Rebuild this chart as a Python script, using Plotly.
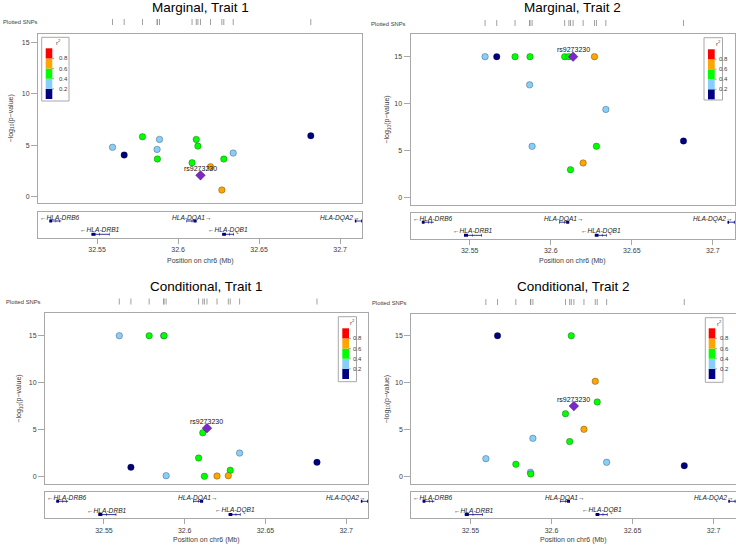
import plotly.graph_objects as go

W, H = 736, 545
FONT = "Liberation Sans, Arial, Helvetica, sans-serif"
BORDER = "#a8a8a8"
TXT = "#404040"

# ---------------- data ----------------
snp_pos = [32.5595, 32.5667, 32.5780, 32.5870, 32.5872, 32.5885, 32.6086, 32.6112,
           32.6122, 32.6138, 32.6200, 32.6270, 32.6282, 32.6340, 32.6819]
# LD bin with index SNP: 0:<0.2 1:0.2-0.4 2:0.4-0.6 3:0.6-0.8 4:>0.8, -1 = index SNP
snp_ld_bin = [1, 0, 2, 1, 2, 1, 2, 2, 2, -1, 3, 3, 2, 1, 0]
index_snp = "rs9273230"

marg_t1 = [4.80, 4.05, 5.83, 4.60, 3.66, 5.57, 3.30, 5.57, 4.92, 2.08, 2.91, 0.65, 3.66, 4.24, 5.92]
marg_t2 = [15.0, 15.0, 15.0, 12.0, 15.0, 5.46, 15.0, 15.0, 2.98, 15.0, 3.69, 15.0, 5.47, 9.39, 6.03]
cond_t1 = [15.0, 0.96, 15.0, 15.0, 15.0, 0.07, 1.95, 4.64, 0.00, 5.14, 0.03, 0.07, 0.64, 2.48, 1.49]
cond_t2 = [1.92, 15.0, 1.32, 0.47, 0.29, 4.08, 6.70, 3.73, 15.0, 7.52, 5.04, 10.15, 7.95, 1.53, 1.17]

panel_titles = ["Marginal, Trait 1", "Marginal, Trait 2", "Conditional, Trait 1", "Conditional, Trait 2"]
panel_values = [marg_t1, marg_t2, cond_t1, cond_t2]

gene_names = ["HLA-DRB6", "HLA-DRB1", "HLA-DQA1", "HLA-DQB1", "HLA-DQA2"]
gene_start = [32.5205, 32.5465, 32.6052, 32.6272, 32.7091]
gene_end = [32.5278, 32.5576, 32.6114, 32.6345, 32.7150]
gene_strand = ["-", "-", "+", "-", "+"]
gene_row = [1, 2, 1, 2, 1]
gene_exons = [
    [(32.5205, 32.5222), (32.5244, 32.5247), (32.5265, 32.5268)],
    [(32.5465, 32.5490), (32.5514, 32.5517), (32.5573, 32.5576)],
    [(32.6052, 32.6055), (32.6084, 32.6087), (32.6095, 32.6114)],
    [(32.6272, 32.6295), (32.6316, 32.6319), (32.6342, 32.6345)],
    [(32.7091, 32.7100), (32.7130, 32.7150)],
]

ld_colors = ["#000080", "#87CEFA", "#00FF00", "#FFA500", "#FF0000"]
ld_breaks = ["0.2", "0.4", "0.6", "0.8"]
index_color = "#7D26CD"

x_range = [32.5135, 32.7135]
x_ticks = [32.55, 32.6, 32.65, 32.7]
x_ticktext = ["32.55", "32.6", "32.65", "32.7"]
y_ticks = [0, 5, 10, 15]

# ---------------- layout geometry (pixels) ----------------
geom = [
    dict(L=38, R=362, mt=34, mb=203, gt=212, gb=238, rt=19, rb=25, ty=7, xty=261, ylx=11,
         ps=(0.5, "left"),
         yr=[-0.61, 15.81], lg=dict(b=(41.7, 69, 37.3, 101), bar=(45.7, 52.3, 48.3, 99), off=4.5)),
    dict(L=410.5, R=734.7, mt=34.3, mb=205, gt=213.3, gb=239, rt=20, rb=26, ty=7, xty=261.3, ylx=387,
         ps=(408, "right"),
         yr=[-0.78, 17.38], lg=dict(b=(704, 722.5, 37.7, 100), bar=(708, 714.7, 49.3, 99.3), off=2.2)),
    dict(L=45, R=368, mt=313.3, mb=484, gt=492.3, gb=518.3, rt=298.5, rb=304.5, ty=286, xty=540, ylx=19,
         ps=(42.5, "right"),
         yr=[-0.82, 17.39], lg=dict(b=(338.3, 356.5, 316.7, 381.7), bar=(342.3, 349, 328.3, 379), off=2.2)),
    dict(L=411.3, R=735.5, mt=314.3, mb=484, gt=492.3, gb=518.3, rt=299, rb=305, ty=286, xty=540, ylx=387,
         ps=(408.7, "right"),
         yr=[-0.78, 17.28], lg=dict(b=(705.3, 723, 317.7, 382.3), bar=(708.7, 715.3, 328.3, 379), off=2.2)),
]


def fx(px):
    return px / W


def fy(py):
    return 1 - py / H


def sfx(k):
    return "" if k == 1 else str(k)


fig = go.Figure()
axes = {}
annotations = []
shapes = []

for i, (title, vals, g) in enumerate(zip(panel_titles, panel_values, geom)):
    km, kg, kr = 3 * i + 1, 3 * i + 2, 3 * i + 3
    xm, ym = "x" + sfx(km), "y" + sfx(km)
    xg, yg = "x" + sfx(kg), "y" + sfx(kg)
    xr, yr_ = "x" + sfx(kr), "y" + sfx(kr)
    xdom = [fx(g["L"]), fx(g["R"])]

    axes["xaxis" + sfx(km)] = dict(domain=xdom, anchor=ym, range=x_range, showticklabels=False,
                                   tickvals=[], ticks="", showgrid=False, zeroline=False, showline=True,
                                   mirror=True, linecolor=BORDER, linewidth=1)
    axes["yaxis" + sfx(km)] = dict(domain=[fy(g["mb"]), fy(g["mt"])], anchor=xm, range=g["yr"],
                                   tickvals=y_ticks, ticks="outside", ticklen=6, tickcolor=BORDER,
                                   tickwidth=1, tickfont=dict(size=7, color=TXT, family=FONT),
                                   showgrid=False, zeroline=False, showline=True, mirror=True,
                                   linecolor=BORDER, linewidth=1)
    axes["xaxis" + sfx(kg)] = dict(domain=xdom, anchor=yg, range=x_range, tickvals=x_ticks,
                                   ticktext=x_ticktext, ticks="outside", ticklen=5, tickcolor=BORDER,
                                   tickfont=dict(size=7, color=TXT, family=FONT), showgrid=False,
                                   zeroline=False, showline=True, mirror=True, linecolor=BORDER,
                                   linewidth=1)
    axes["yaxis" + sfx(kg)] = dict(domain=[fy(g["gb"]), fy(g["gt"])], anchor=xg, range=[0, 26],
                                   showticklabels=False, tickvals=[], ticks="", showgrid=False,
                                   zeroline=False, showline=True, mirror=True, linecolor=BORDER,
                                   linewidth=1)
    axes["xaxis" + sfx(kr)] = dict(domain=xdom, anchor=yr_, range=x_range, visible=False)
    axes["yaxis" + sfx(kr)] = dict(domain=[fy(g["rb"]), fy(g["rt"])], anchor=xr, range=[0, 1],
                                   visible=False)

    # rug of plotted SNPs
    fig.add_trace(go.Scatter(x=snp_pos, y=[0.5] * len(snp_pos), xaxis=xr, yaxis=yr_, mode="markers",
                             marker=dict(symbol="line-ns", size=7, line=dict(width=0.8, color="#888888")),
                             hoverinfo="skip", showlegend=False))

    # SNP points by LD bin (low LD first)
    for b in range(5):
        idx = [j for j, v in enumerate(snp_ld_bin) if v == b]
        if not idx:
            continue
        fig.add_trace(go.Scatter(x=[snp_pos[j] for j in idx], y=[vals[j] for j in idx],
                                 xaxis=xm, yaxis=ym, mode="markers",
                                 marker=dict(symbol="circle", size=6.5, color=ld_colors[b],
                                             line=dict(width=0.5, color="rgba(0,0,0,0.55)")),
                                 showlegend=False, cliponaxis=False))
    ii = snp_ld_bin.index(-1)
    fig.add_trace(go.Scatter(x=[snp_pos[ii]], y=[vals[ii]], xaxis=xm, yaxis=ym, mode="markers",
                             marker=dict(symbol="diamond", size=7.5, color=index_color,
                                         line=dict(width=0.5, color="rgba(0,0,0,0.55)")),
                             showlegend=False))
    annotations.append(dict(x=snp_pos[ii], y=vals[ii], xref=xm, yref=ym, text=index_snp,
                            showarrow=False, yshift=7, xanchor="center",
                            font=dict(size=7, color="#111", family=FONT)))

    # genes
    for gi, name in enumerate(gene_names):
        ybody = 17 if gene_row[gi] == 1 else 3.7
        ylab = 20.5 if gene_row[gi] == 1 else 8.2
        fig.add_trace(go.Scatter(x=[gene_start[gi], gene_end[gi]], y=[ybody, ybody], xaxis=xg, yaxis=yg,
                                 mode="lines", line=dict(color="#000080", width=0.8),
                                 hoverinfo="skip", showlegend=False))
        ex_x, ex_y = [], []
        for (a, bnd) in gene_exons[gi]:
            ex_x += [a, bnd, None]
            ex_y += [ybody, ybody, None]
        fig.add_trace(go.Scatter(x=ex_x, y=ex_y, xaxis=xg, yaxis=yg, mode="lines",
                                 line=dict(color="#000080", width=3), hoverinfo="skip", showlegend=False))
        label = ("\u2190" + name) if gene_strand[gi] == "-" else (name + "\u2192")
        mid = (gene_start[gi] + gene_end[gi]) / 2
        if mid - x_range[0] < 0.011:
            lx, anchor = x_range[0], "left"
        elif x_range[1] - mid < 0.011:
            lx, anchor = x_range[1], "right"
        else:
            lx, anchor = mid, "center"
        annotations.append(dict(x=lx, y=ylab, xref=xg, yref=yg, text="<i>" + label + "</i>",
                                showarrow=False, xanchor=anchor, yanchor="middle",
                                font=dict(size=6.6, color="#222", family=FONT)))

    # titles and labels
    annotations.append(dict(x=fx((g["L"] + g["R"]) / 2), y=fy(g["ty"]), xref="paper", yref="paper",
                            text=title, showarrow=False, xanchor="center", yanchor="middle",
                            font=dict(size=13.5, color="#000", family=FONT)))
    annotations.append(dict(x=fx((g["L"] + g["R"]) / 2), y=fy(g["xty"]), xref="paper", yref="paper",
                            text="Position on chr6 (Mb)", showarrow=False, xanchor="center",
                            yanchor="middle", font=dict(size=7, color=TXT, family=FONT)))
    annotations.append(dict(x=fx(g["ylx"]), y=fy((g["mt"] + g["mb"]) / 2), xref="paper", yref="paper",
                            text="\u2212log<sub>10</sub>(p\u2212value)", textangle=-90, showarrow=False,
                            xanchor="center", yanchor="middle",
                            font=dict(size=7, color=TXT, family=FONT)))
    annotations.append(dict(x=fx(g["ps"][0]), y=fy((g["rt"] + g["rb"]) / 2 + 0.5), xref="paper",
                            yref="paper", text="Plotted SNPs", showarrow=False, xanchor=g["ps"][1],
                            yanchor="middle", font=dict(size=5.8, color=TXT, family=FONT)))

    # r^2 legend
    lg = g["lg"]
    bx0, bx1, by0, by1 = lg["b"]
    shapes.append(dict(type="rect", xref="paper", yref="paper", x0=fx(bx0), x1=fx(bx1), y0=fy(by1),
                       y1=fy(by0), line=dict(color=BORDER, width=1), fillcolor="white", layer="above"))
    cx0, cx1, cy0, cy1 = lg["bar"]
    step = (cy1 - cy0) / 5
    for b in range(5):
        top = cy0 + (4 - b) * step
        shapes.append(dict(type="rect", xref="paper", yref="paper", x0=fx(cx0), x1=fx(cx1),
                           y0=fy(top + step), y1=fy(top), line=dict(width=0),
                           fillcolor=ld_colors[b], layer="above"))
    for k, lab in enumerate(ld_breaks):
        yb = cy1 - (k + 1) * step
        shapes.append(dict(type="line", xref="paper", yref="paper", x0=fx(cx1), x1=fx(cx1 + 1.8),
                           y0=fy(yb), y1=fy(yb), line=dict(color="#666", width=0.6), layer="above"))
        annotations.append(dict(x=fx(cx1 + lg["off"]), y=fy(yb), xref="paper", yref="paper", text=lab,
                                showarrow=False, xanchor="left", yanchor="middle",
                                font=dict(size=6, color=TXT, family=FONT)))
    annotations.append(dict(x=fx(cx1 + lg["off"] + 1.5), y=fy(by0 + 5), xref="paper", yref="paper",
                            text="r<sup>2</sup>", showarrow=False, xanchor="center", yanchor="middle",
                            font=dict(size=6, color=TXT, family=FONT)))

fig.update_layout(width=W, height=H, autosize=False, margin=dict(l=0, r=0, t=0, b=0),
                  paper_bgcolor="white", plot_bgcolor="white", showlegend=False,
                  font=dict(family=FONT), annotations=annotations, shapes=shapes, **axes)

fig.write_html("out.html", config={"displayModeBar": False},
               post_script="document.body.style.margin='0px';document.body.style.overflow='hidden';")
